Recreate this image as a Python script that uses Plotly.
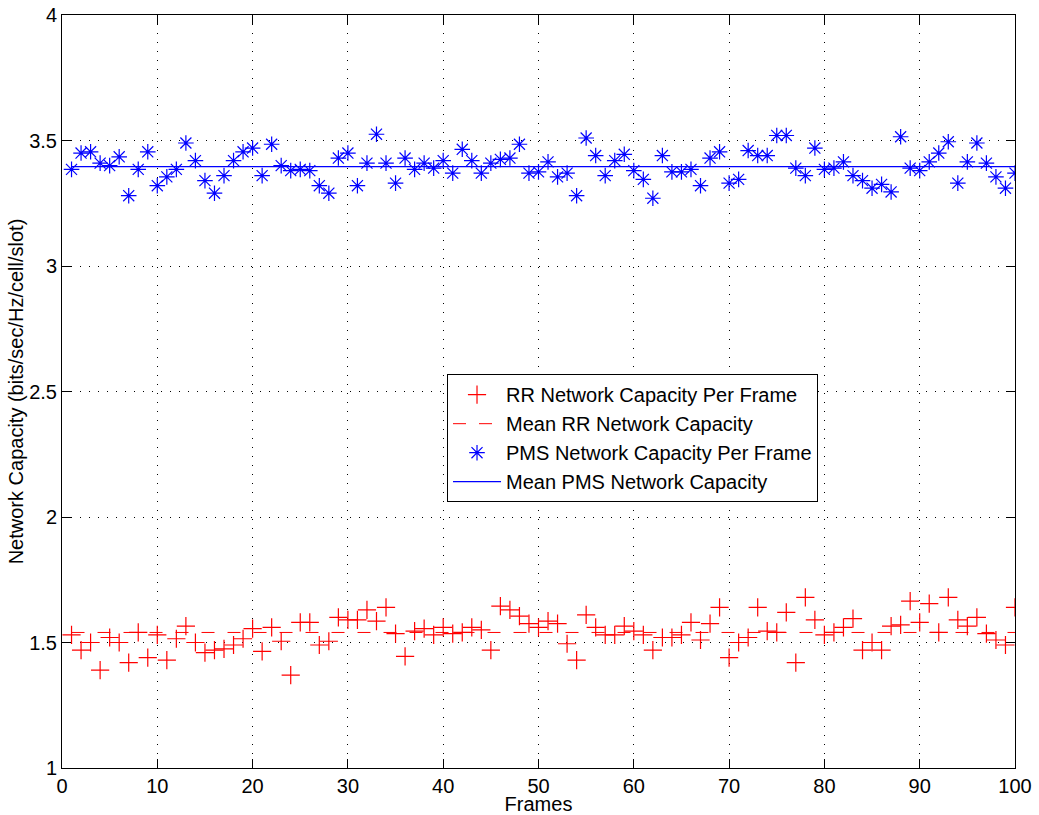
import plotly.graph_objects as go

frames = list(range(1, 101))

pms = [3.385, 3.45, 3.455, 3.41, 3.40, 3.435, 3.28, 3.385, 3.455, 3.32,
       3.355, 3.385, 3.49, 3.42, 3.34, 3.29, 3.36, 3.42, 3.455, 3.47,
       3.36, 3.485, 3.40, 3.38, 3.385, 3.38, 3.32, 3.29, 3.43, 3.45,
       3.32, 3.41, 3.525, 3.41, 3.33, 3.43, 3.385, 3.41, 3.39, 3.42,
       3.37, 3.465, 3.42, 3.37, 3.41, 3.425, 3.43, 3.485, 3.37, 3.375,
       3.415, 3.355, 3.37, 3.28, 3.51, 3.44, 3.36, 3.42, 3.445, 3.38,
       3.345, 3.27, 3.44, 3.375, 3.375, 3.385, 3.32, 3.43, 3.455, 3.33,
       3.345, 3.46, 3.44, 3.44, 3.52, 3.52, 3.39, 3.36, 3.47, 3.385,
       3.39, 3.415, 3.36, 3.34, 3.31, 3.325, 3.295, 3.515, 3.39, 3.38,
       3.415, 3.45, 3.495, 3.33, 3.415, 3.49, 3.41, 3.355, 3.31, 3.37]

rr = [1.53, 1.47, 1.50, 1.39, 1.52, 1.50, 1.42, 1.54, 1.44, 1.53,
      1.43, 1.515, 1.565, 1.50, 1.46, 1.47, 1.475, 1.49, 1.515, 1.555,
      1.465, 1.56, 1.505, 1.37, 1.58, 1.58, 1.49, 1.505, 1.60, 1.59,
      1.59, 1.63, 1.585, 1.64, 1.535, 1.445, 1.545, 1.555, 1.53, 1.56,
      1.535, 1.54, 1.56, 1.55, 1.47, 1.645, 1.63, 1.605, 1.575, 1.56,
      1.585, 1.575, 1.495, 1.43, 1.61, 1.56, 1.53, 1.53, 1.565, 1.545,
      1.53, 1.47, 1.52, 1.52, 1.53, 1.58, 1.51, 1.575, 1.64, 1.44,
      1.50, 1.52, 1.64, 1.545, 1.54, 1.62, 1.42, 1.68, 1.59, 1.53,
      1.54, 1.56, 1.595, 1.47, 1.50, 1.47, 1.565, 1.57, 1.665, 1.58,
      1.655, 1.54, 1.68, 1.59, 1.565, 1.60, 1.535, 1.51, 1.49, 1.64]

rr_mean = 1.54
pms_mean = 3.396

x_ticks = [0, 10, 20, 30, 40, 50, 60, 70, 80, 90, 100]
y_ticks = [1, 1.5, 2, 2.5, 3, 3.5, 4]
y_tick_labels = ["1", "1.5", "2", "2.5", "3", "3.5", "4"]

FONT = "Liberation Sans, Arial, Helvetica, sans-serif"

fig = go.Figure()
fig.add_trace(go.Scatter(
    x=frames, y=rr, mode="markers", name="RR Network Capacity Per Frame",
    marker=dict(symbol="cross-thin-open", size=13, color="red",
                line=dict(color="red", width=1.2))))
fig.add_trace(go.Scatter(
    x=frames, y=[rr_mean] * len(frames), mode="lines", name="Mean RR Network Capacity",
    line=dict(color="red", width=1, dash="13px,13px")))
fig.add_trace(go.Scatter(
    x=frames, y=pms, mode="markers", name="PMS Network Capacity Per Frame",
    marker=dict(symbol="asterisk-open", size=13, color="blue",
                line=dict(color="blue", width=1.2))))
fig.add_trace(go.Scatter(
    x=frames, y=[pms_mean] * len(frames), mode="lines", name="Mean PMS Network Capacity",
    line=dict(color="blue", width=1.2)))

axis_common = dict(
    showline=True, linecolor="black", linewidth=1, mirror="allticks",
    ticks="inside", ticklen=9, tickcolor="black",
    showgrid=True, gridcolor="black", gridwidth=1, griddash="1px,8px",
    zeroline=False, automargin=False,
    tickfont=dict(family=FONT, size=20, color="black"),
)

fig.update_xaxes(range=[0, 100], tickvals=x_ticks,
                 title=dict(text="Frames", font=dict(family=FONT, size=20, color="black"), standoff=0),
                 **axis_common)
fig.update_yaxes(range=[1, 4], tickvals=y_ticks, ticktext=y_tick_labels,
                 title=dict(text="Network Capacity (bits/sec/Hz/cell/slot)",
                            font=dict(family=FONT, size=20, color="black"), standoff=0),
                 **axis_common)

fig.update_layout(
    width=1039, height=815,
    margin=dict(l=62, r=24, t=15, b=47, autoexpand=False),
    paper_bgcolor="white", plot_bgcolor="white",
    font=dict(family=FONT, size=20, color="black"),
    showlegend=True,
    legend=dict(x=0.404, y=0.523, xanchor="left", yanchor="top",
                bgcolor="white", bordercolor="black", borderwidth=1,
                font=dict(family=FONT, size=20, color="black"),
                tracegroupgap=0, itemwidth=48),
)

fig.write_html("out.html")
